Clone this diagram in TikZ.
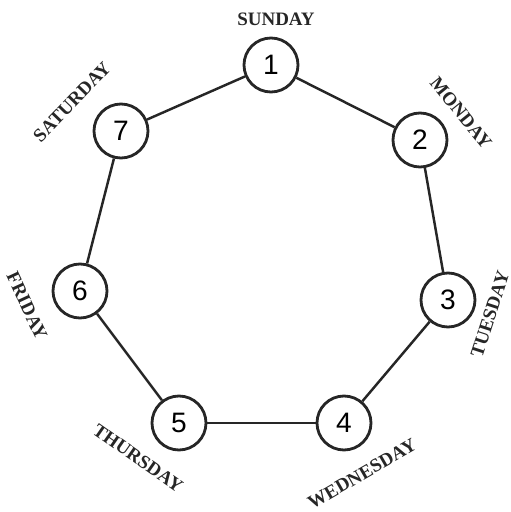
\documentclass[tikz,border=0pt]{standalone}
\usepackage{fontspec}
\setmainfont{Liberation Serif}
\newfontfamily\digitfont{Liberation Sans}
\usetikzlibrary{positioning}

\begin{document}
\begin{tikzpicture}[
  x=0.02cm, y=0.02cm,
  day/.style={draw=black!85, circle, line width=1.6pt, minimum size=1.08cm, inner sep=0pt,
    fill=white, font=\digitfont\fontsize{16}{16}\selectfont},
  dayname/.style={font=\bfseries\fontsize{10.8}{11}\selectfont, text=black!85, inner sep=0pt},
  link/.style={draw=black!85, line width=1.4pt}
]
\useasboundingbox (0,0) rectangle (511,512);

% the seven days round the week
\node[day] (sun) at (271,447) {1};
\node[day] (mon) at (420,372) {2};
\node[day] (tue) at (448,212) {3};
\node[day] (wed) at (344,89) {4};
\node[day] (thu) at (179,89) {5};
\node[day] (fri) at (80,221) {6};
\node[day] (sat) at (121,381) {7};

\draw[link] (sun) -- (mon);
\draw[link] (mon) -- (tue);
\draw[link] (tue) -- (wed);
\draw[link] (wed) -- (thu);
\draw[link] (thu) -- (fri);
\draw[link] (fri) -- (sat);
\draw[link] (sat) -- (sun);

% names
\node[dayname] (sunname) at (276,493) {SUNDAY};
\node[dayname, rotate=-51] (monname) at (461,399) {MONDAY};
\node[dayname, rotate=72] (tuename) at (490,198) {TUESDAY};
\node[dayname, rotate=30] (wedname) at (362,38) {WEDNESDAY};
\node[dayname, rotate=-35] (thuname) at (138,54) {THURSDAY};
\node[dayname, rotate=-65] (friname) at (27,206) {FRIDAY};
\node[dayname, rotate=46] (satname) at (72,410) {SATURDAY};

\end{tikzpicture}
\end{document}
